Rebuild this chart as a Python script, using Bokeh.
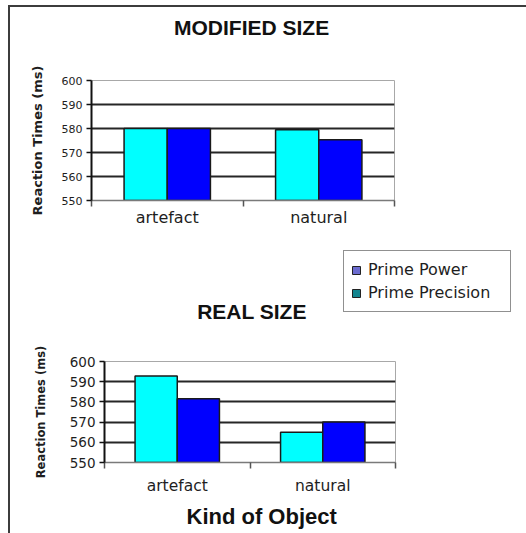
import numpy as np
from bokeh.plotting import figure
from bokeh.models import Range1d, FixedTicker, Title, Legend, LegendItem, ColumnDataSource, Label
from bokeh.layouts import column
from bokeh.transform import dodge
from bokeh.embed import file_html
from bokeh.resources import INLINE

# ---- data ----
categories = ["artefact", "natural"]
series_names = ["Prime Power", "Prime Precision"]
modified_cyan = [580.0, 579.5]
modified_blue = [580.0, 575.3]
real_cyan = [592.8, 565.0]
real_blue = [581.5, 570.0]
y_ticks = [550, 560, 570, 580, 590, 600]
grid_ticks = [560, 570, 580, 590]

BAR_CYAN = "#00ffff"
BAR_BLUE = "#0000ff"
SW_POWER = "#6b6bcf"
SW_PREC = "#13858f"
TXT = "#1e1e1e"
W = 516


def make_chart(cyan_vals, blue_vals, height, borders, bar_w,
               tick_font, cat_font, ylab_font, ylab_standoff, cat_standoff):
    n = len(categories)
    xs = [i + 0.5 for i in range(n)]
    src = ColumnDataSource(dict(x=xs, cyan=cyan_vals, blue=blue_vals))
    p = figure(width=W, height=height, output_backend="svg", toolbar_location=None,
               x_range=Range1d(0, n), y_range=Range1d(y_ticks[0], y_ticks[-1]),
               min_border_left=borders[0], min_border_right=borders[1],
               min_border_top=borders[2], min_border_bottom=borders[3],
               background_fill_color="white", border_fill_color="white")
    p.frame_align = False
    p.title = None
    p.vbar(x=dodge("x", -bar_w / 2, range=p.x_range), top="cyan", bottom=y_ticks[0], width=bar_w,
           source=src, fill_color=BAR_CYAN, line_color="#1a1a1a", line_width=1.5)
    p.vbar(x=dodge("x", bar_w / 2, range=p.x_range), top="blue", bottom=y_ticks[0], width=bar_w,
           source=src, fill_color=BAR_BLUE, line_color="#1a1a1a", line_width=1.5)

    p.outline_line_color = "#a8a8a8"
    p.outline_line_width = 1
    p.xgrid.visible = False
    p.ygrid.ticker = FixedTicker(ticks=grid_ticks)
    p.ygrid.grid_line_color = "#262626"
    p.ygrid.grid_line_width = 2

    xa = p.xaxis[0]
    xa.ticker = FixedTicker(ticks=xs, minor_ticks=list(range(n + 1)))
    xa.major_label_overrides = {x: c for x, c in zip(xs, categories)}
    xa.major_tick_line_color = None
    xa.major_tick_out = 0
    xa.major_tick_in = 0
    xa.minor_tick_out = 6
    xa.minor_tick_in = 0
    xa.minor_tick_line_color = "#555555"
    xa.minor_tick_line_width = 1.5
    xa.axis_line_color = "#7a7a7a"
    xa.axis_line_width = 1.5
    xa.major_label_text_font = "DejaVu Sans"
    xa.major_label_text_font_size = cat_font
    xa.major_label_text_color = TXT
    xa.major_label_standoff = cat_standoff

    ya = p.yaxis[0]
    ya.ticker = FixedTicker(ticks=y_ticks)
    ya.major_tick_out = 5
    ya.major_tick_in = 0
    ya.major_tick_line_color = "#111111"
    ya.major_tick_line_width = 1.5
    ya.minor_tick_line_color = None
    ya.axis_line_color = "#111111"
    ya.axis_line_width = 2
    ya.major_label_text_font = "DejaVu Sans"
    ya.major_label_text_font_size = tick_font
    ya.major_label_text_color = TXT
    ya.major_label_standoff = 4
    ya.axis_label = "Reaction Times (ms)"
    ya.axis_label_text_font = "DejaVu Sans"
    ya.axis_label_text_font_style = "bold"
    ya.axis_label_text_font_size = ylab_font
    ya.axis_label_text_color = TXT
    ya.axis_label_standoff = ylab_standoff
    return p


def add_title(p, text, where, size, offset, standoff):
    t = Title(text=text, align="left", offset=offset, standoff=standoff,
              text_font="Liberation Sans", text_font_style="bold",
              text_font_size=size, text_color="#111111")
    p.add_layout(t, where)


# top chart
p1 = make_chart(modified_cyan, modified_blue, 241, (81, 132, 73, 48), 0.285,
                "11px", "16px", "13px", 14, 1)
p1.add_layout(Title(text=" ", text_font_size="2px", standoff=31), "above")  # spacer
add_title(p1, "MODIFIED SIZE", "above", "21px", 82.5, 13)

# middle strip: legend + second title
mid = figure(width=W, height=80, output_backend="svg", toolbar_location=None,
             x_range=Range1d(0, W), y_range=Range1d(0, 80),
             x_axis_location=None, y_axis_location=None,
             min_border_left=0, min_border_right=0, min_border_top=0, min_border_bottom=0,
             background_fill_color="white", border_fill_color="white")
mid.frame_align = False
mid.title = None
mid.outline_line_color = None
mid.xgrid.visible = False
mid.ygrid.visible = False
# legend-only proxies (no visible mark: NaN values)
proxy = ColumnDataSource(dict(x=[np.nan], top=[np.nan]))
r_power = mid.vbar(x="x", top="top", width=0.1, source=proxy,
                   fill_color=SW_POWER, line_color="#222222", line_width=1)
r_prec = mid.vbar(x="x", top="top", width=0.1, source=proxy,
                  fill_color=SW_PREC, line_color="#222222", line_width=1)
legend = Legend(items=[LegendItem(label=series_names[0], renderers=[r_power], index=0),
                       LegendItem(label=series_names[1], renderers=[r_prec], index=0)],
                location=(333, 16))
legend.border_line_color = "#222222"
legend.border_line_width = 1.5
legend.background_fill_color = "white"
legend.background_fill_alpha = 1
legend.label_text_font = "DejaVu Sans"
legend.label_text_font_size = "16px"
legend.label_text_color = TXT
legend.glyph_width = 10
legend.glyph_height = 10
legend.label_height = 23
legend.label_width = 135
legend.label_standoff = 7
legend.spacing = 0
legend.padding = 7
legend.margin = 0
mid.add_layout(legend)
mid.add_layout(Label(x=241.5, y=17, text="REAL SIZE", text_align="center",
                     text_baseline="middle", text_font="Liberation Sans",
                     text_font_style="bold", text_font_size="21px", text_color="#111111"))

# bottom chart
p2 = make_chart(real_cyan, real_blue, 205, (94, 131, 33, 70), 0.29,
                "13.5px", "15.5px", "11.5px", 19, 8)
add_title(p2, "Kind of Object", "below", "22px", 82, 9)

layout = column(p1, mid, p2, spacing=0, margin=(5, 0, 0, 8),
                styles={"border-top": "2px solid #3c3c3c", "border-left": "2px solid #3c3c3c"})

open("out.html", "w").write(file_html(layout, INLINE))
